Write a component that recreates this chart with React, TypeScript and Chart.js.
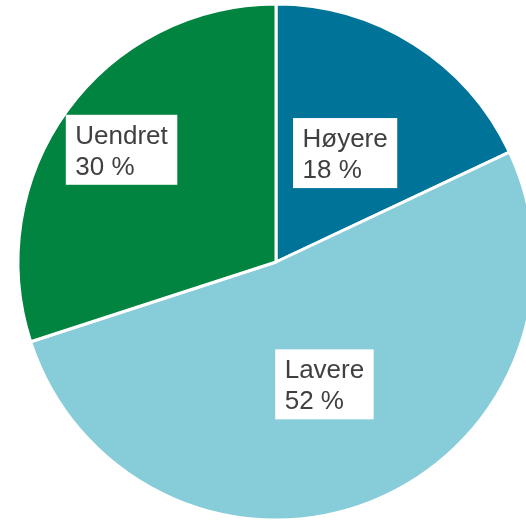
import React, { useEffect, useRef } from "react";
import { Chart, registerables } from "chart.js";

Chart.register(...registerables);

const categories = ["Høyere", "Lavere", "Uendret"];
const values = [18, 52, 30];
const colors = ["#007399", "#86CCD9", "#00843F"];
const labelRadius = [0.5, 0.51, 0.74];

const boxLabels = {
  id: "boxLabels",
  afterDatasetsDraw(chart: any) {
    const ctx = chart.ctx;
    const meta = chart.getDatasetMeta(0);
    ctx.save();
    ctx.font = '26px "Liberation Sans", Arial, sans-serif';
    meta.data.forEach((arc: any, i: number) => {
      const p = arc.getProps(["x", "y", "startAngle", "endAngle", "outerRadius"], true);
      const mid = (p.startAngle + p.endAngle) / 2;
      const r = p.outerRadius * labelRadius[i];
      const cx = p.x + Math.cos(mid) * r;
      const cy = p.y + Math.sin(mid) * r;
      const lines = [categories[i], values[i] + " %"];
      const w = Math.max(...lines.map((l) => ctx.measureText(l).width));
      const padX = 9.5;
      const bw = w + padX * 2;
      const bh = 70;
      const bx = cx - bw / 2;
      const by = cy - bh / 2;
      ctx.fillStyle = "#ffffff";
      ctx.fillRect(bx, by, bw, bh);
      ctx.fillStyle = "#404040";
      ctx.textAlign = "left";
      ctx.textBaseline = "alphabetic";
      ctx.fillText(lines[0], bx + padX, by + 29);
      ctx.fillText(lines[1], bx + padX, by + 60);
    });
    ctx.restore();
  },
};

export default function App() {
  const ref = useRef<HTMLCanvasElement | null>(null);
  useEffect(() => {
    if (!ref.current) return;
    const chart = new Chart(ref.current, {
      type: "pie",
      data: {
        labels: categories,
        datasets: [
          {
            data: values,
            backgroundColor: colors,
            borderColor: "#ffffff",
            borderWidth: 3,
          },
        ],
      },
      options: {
        responsive: false,
        animation: false,
        radius: 258,
        layout: { padding: { top: 3, left: 0, right: 0, bottom: 0 } },
        plugins: {
          legend: { display: false },
          tooltip: { enabled: false },
        },
      } as any,
      plugins: [boxLabels],
    });
    return () => chart.destroy();
  }, []);
  return (
    <div
      style={{
        position: "absolute",
        left: 0,
        top: 0,
        width: 526,
        height: 521,
        overflow: "hidden",
        background: "#ffffff",
      }}
    >
      <canvas ref={ref} width={552} height={521} style={{ width: 552, height: 521, display: "block" }} />
    </div>
  );
}
